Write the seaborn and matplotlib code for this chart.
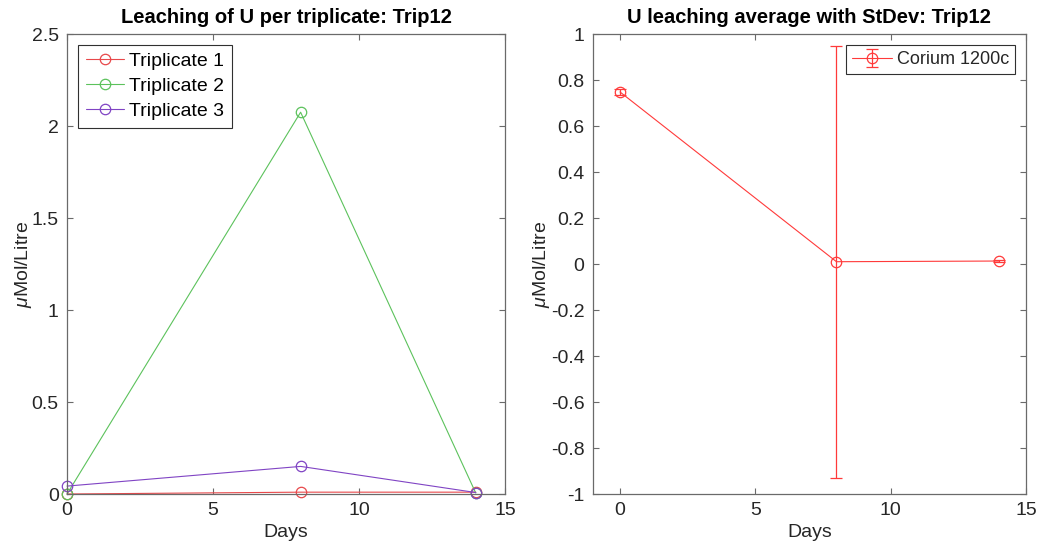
import numpy as np
import pandas as pd
import matplotlib
matplotlib.use("Agg")
import matplotlib.pyplot as plt
from matplotlib.ticker import FuncFormatter
import seaborn as sns

# Sampling days
days = [0, 8, 14]

# Uranium concentration per triplicate (µMol/L)
trip1 = [0.0, 0.010, 0.010]
trip2 = [0.0, 2.075, 0.005]
trip3 = [0.043, 0.150, 0.008]
series_names = ["Triplicate 1", "Triplicate 2", "Triplicate 3"]

# Average concentration and standard deviation
avg_vals = [0.748, 0.010, 0.013]
std_vals = [0.013, 0.940, 0.004]
avg_label = "Corium 1200c"

# Axis ticks
x_ticks = [0, 5, 10, 15]
left_y_ticks = [0, 0.5, 1, 1.5, 2, 2.5]
right_y_ticks = [-1, -0.8, -0.6, -0.4, -0.2, 0, 0.2, 0.4, 0.6, 0.8, 1]

colors = ["#e8484a", "#5cc25c", "#8044c4"]
avg_color = "#ff3a3a"

sns.set_theme(style="white")
plt.rcParams["font.family"] = ["Liberation Sans", "DejaVu Sans"]
plt.rcParams["axes.unicode_minus"] = False
plt.rcParams["mathtext.fontset"] = "custom"
plt.rcParams["mathtext.it"] = "Liberation Sans:italic"
plt.rcParams["mathtext.rm"] = "Liberation Sans"

long = pd.DataFrame({
    "Days": days * 3,
    "value": trip1 + trip2 + trip3,
    "series": sum([[n] * len(days) for n in series_names], []),
})

fig = plt.figure(figsize=(10.41, 5.56), dpi=100)
ax1 = fig.add_axes([0.0644, 0.1115, 0.4207, 0.8273])
ax2 = fig.add_axes([0.5696, 0.1115, 0.4159, 0.8273])

TXT = "#262626"
SPINE = "#6a6a6a"


def tick_fmt(v, pos):
    v = round(v, 6)
    if v == 0:
        return "0"
    return "%g" % v


def style_axes(ax):
    for s in ax.spines.values():
        s.set_visible(True)
        s.set_color(SPINE)
        s.set_linewidth(0.9)
    ax.tick_params(direction="in", length=4, width=0.8, color=SPINE,
                   top=True, right=True, bottom=True, left=True,
                   labelsize=14, labelcolor=TXT, pad=6)
    ax.yaxis.set_major_formatter(FuncFormatter(tick_fmt))
    ax.xaxis.set_major_formatter(FuncFormatter(tick_fmt))


# Left: individual triplicates
sns.lineplot(data=long, x="Days", y="value", hue="series", palette=colors,
             marker="o", markersize=7.5, linewidth=0.8, ax=ax1, legend=True)
for line in ax1.lines:
    c = line.get_color()
    line.set_markerfacecolor("none")
    line.set_markeredgecolor(c)
    line.set_markeredgewidth(0.9)
    line.set_clip_on(False)
ax1.set_xlim(0, 15)
ax1.set_ylim(0, 2.5)
ax1.set_xticks(x_ticks)
ax1.set_yticks(left_y_ticks)
style_axes(ax1)
ax1.set_title("Leaching of U per triplicate: Trip12", fontsize=14.5,
              fontweight="bold", color="black", pad=8)
ax1.set_xlabel("Days", fontsize=14, color=TXT, labelpad=3)
ax1.set_ylabel(r"$\mu$Mol/Litre", fontsize=14, color=TXT, labelpad=-2)
handles, labels = ax1.get_legend_handles_labels()
for h in handles:
    h.set_markerfacecolor("none")
    h.set_markeredgecolor(h.get_color())
leg1 = ax1.legend(handles, labels, loc="upper left", fontsize=14, frameon=True,
                  fancybox=False, edgecolor="#303030", framealpha=1,
                  borderpad=0.4, handlelength=2.0, handletextpad=0.25,
                  labelspacing=0.38, borderaxespad=0.55)
leg1.get_frame().set_linewidth(0.8)
for t in leg1.get_texts():
    t.set_color("black")

# Right: average with standard deviation
avg_df = pd.DataFrame({"Days": days, "avg": avg_vals, "std": std_vals})
ax2.errorbar(avg_df["Days"], avg_df["avg"], yerr=avg_df["std"], fmt="-o",
             color=avg_color, mfc="none", mec=avg_color, markersize=7.5,
             mew=0.9, linewidth=0.8, elinewidth=0.9, capsize=4, capthick=0.9,
             label=avg_label, clip_on=False)
ax2.set_xlim(-1, 15)
ax2.set_ylim(-1, 1)
ax2.set_xticks(x_ticks)
ax2.set_yticks(right_y_ticks)
style_axes(ax2)
ax2.set_title("U leaching average with StDev: Trip12", fontsize=14.5,
              fontweight="bold", color="black", pad=8)
ax2.set_xlabel("Days", fontsize=14, color=TXT, labelpad=3)
ax2.set_ylabel(r"$\mu$Mol/Litre", fontsize=14, color=TXT, labelpad=-1)
leg2 = ax2.legend(loc="upper right", fontsize=13, frameon=True, fancybox=False,
                  edgecolor="#303030", framealpha=1, borderpad=0.35,
                  handlelength=2.2, handletextpad=0.25, borderaxespad=0.6)
leg2.get_frame().set_linewidth(0.8)

fig.savefig("out.png", dpi=100)
